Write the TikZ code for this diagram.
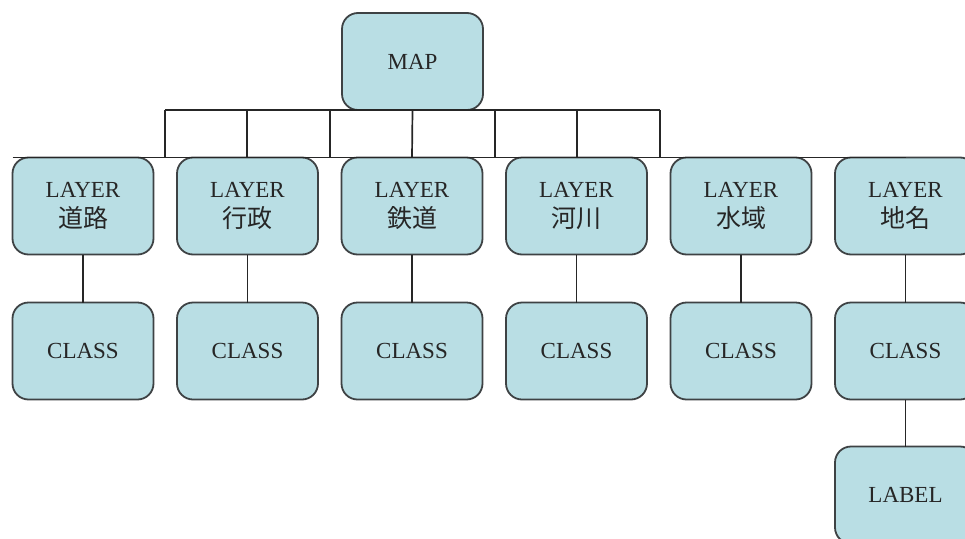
\documentclass[tikz,border=0pt]{standalone}
\usepackage{fontspec}
\setmainfont{Liberation Serif}
\newfontfamily\jpfont{Noto Sans CJK JP}
\usetikzlibrary{positioning}
\definecolor{boxfill}{RGB}{185,222,228}
\definecolor{boxline}{RGB}{62,66,68}

\begin{document}
\begin{tikzpicture}[
  x=1pt, y=-1pt,
  font=\fontsize{23}{30}\selectfont,
  node distance=48pt and 23.5pt,
  box/.style={draw=boxline, line width=1.8pt, fill=boxfill, rounded corners=16pt, align=center, minimum width=141pt, minimum height=97pt, inner sep=0pt, outer sep=0pt, text=black!85},
  link/.style={draw=black!85, line width=1.7pt}
]
\useasboundingbox (0,0) rectangle (965,538);
\clip (0,0) rectangle (965,538);

% Root
\node[box] (map) at (412.5,61.5) {MAP};

% Layers
\node[box] (road) at (83,206) {LAYER\\{\fontsize{25}{25}\jpfont 道路}};
\node[box, right=of road] (admin) {LAYER\\{\fontsize{25}{25}\jpfont 行政}};
\node[box, right=of admin] (rail) {LAYER\\{\fontsize{25}{25}\jpfont 鉄道}};
\node[box, right=of rail] (river) {LAYER\\{\fontsize{25}{25}\jpfont 河川}};
\node[box, right=of river] (water) {LAYER\\{\fontsize{25}{25}\jpfont 水域}};
\node[box, right=of water] (place) {LAYER\\{\fontsize{25}{25}\jpfont 地名}};

% Classes
\foreach \n in {road,admin,rail,river,water,place}
  \node[box, below=of \n] (\n cls) {CLASS};

\node[box, below=47pt of placecls] (placelbl) {LABEL};

% Bus lines
\foreach \n/\x in {a/165,b/247,c/330,d/495,e/577,f/660} {
  \coordinate (up\n) at (\x,110);
  \coordinate (dn\n) at (\x,157);
}
\draw[link] (upa) -- (upf);
\foreach \n in {a,b,c,d,e,f}
  \draw[link] (up\n) -- (dn\n);
\draw[link] (map.south) -- (rail.north);
\draw[link] (road.north west) -- (place.north);

% Layer to class
\foreach \n in {road,admin,rail,river,water,place}
  \draw[link] (\n) -- (\n cls);
\draw[link] (placecls) -- (placelbl);

\end{tikzpicture}
\end{document}
